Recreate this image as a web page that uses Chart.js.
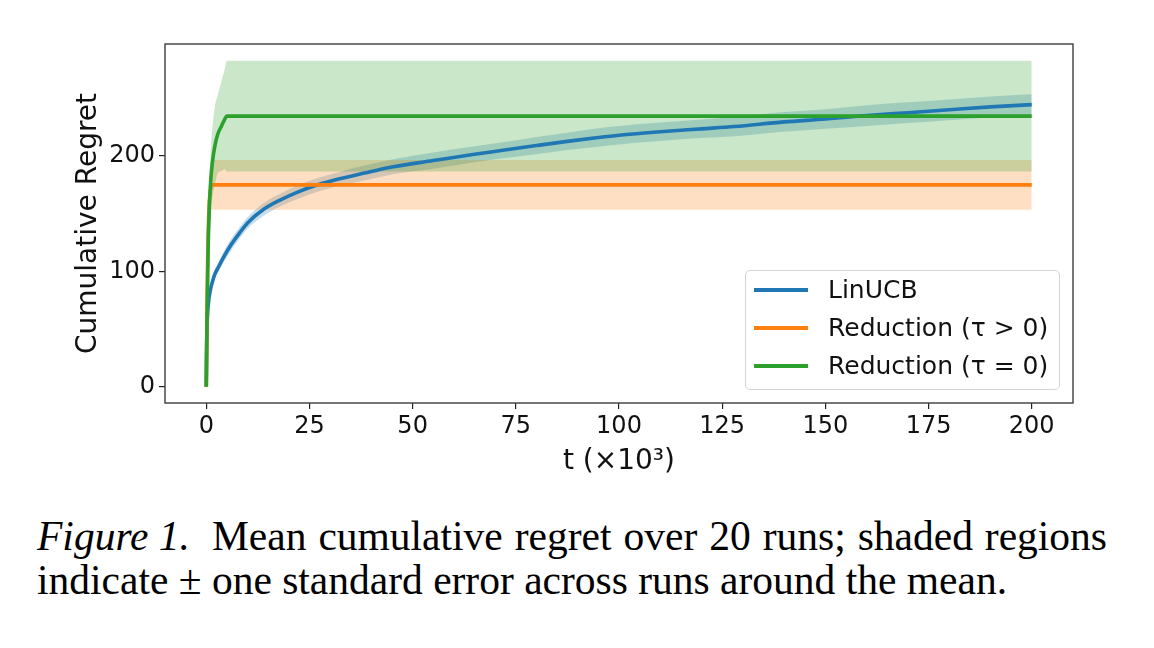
<!DOCTYPE html>
<html><head><meta charset="utf-8">
<script src="https://cdn.jsdelivr.net/npm/chart.js@4.4.1/dist/chart.umd.min.js"></script>
<style>
html,body{margin:0;padding:0;background:#fff;width:1154px;height:648px;overflow:hidden;}
#wrap{position:absolute;left:0;top:0;width:1154px;height:500px;}
#legend{position:absolute;left:745px;top:270px;width:313px;height:118px;border:1px solid #d4d4d4;border-radius:5px;background:rgba(255,255,255,0.8);font-family:"DejaVu Sans";font-size:25px;color:#111;}
.row{position:absolute;left:0;width:313px;height:38px;}
.sw{position:absolute;left:8px;top:17px;width:54px;height:4px;}
.lab{position:absolute;left:82px;top:0;line-height:38px;white-space:nowrap;}
#caption{position:absolute;left:37px;top:514px;font-family:"Liberation Serif";font-size:41.5px;line-height:44px;color:#000;white-space:nowrap;}
.gap{display:inline-block;width:22px;}
.l1{word-spacing:1.6px;}
</style></head>
<body>
<div id="wrap"><canvas id="c"></canvas></div>
<div id="legend"></div>
<div id="caption"><i>Figure 1.</i><span class="gap"></span><span class="l1">Mean cumulative regret over 20 runs; shaded regions</span><br>indicate ± one standard error across runs around the mean.</div>
<script>
// ---- data ----
const seriesNames = ["LinUCB", "Reduction (τ > 0)", "Reduction (τ = 0)"];
const seriesColors = ["#1f77b4", "#ff7f0e", "#2ca02c"];

const linucbT    = [0, 0.1, 0.25, 0.5, 1, 1.5, 2, 3, 4, 6, 8, 10, 14, 18, 22, 27, 32, 38, 45, 55, 65, 71, 80, 87, 95, 100, 110, 120, 128, 140, 150, 160, 170, 180, 190, 200];
const linucbMean = [0, 38, 58, 72, 84, 91, 97, 104, 111, 123, 133, 142, 154, 162, 168.5, 175, 180, 185, 190.5, 196, 201.5, 204.5, 209, 212.4, 216, 218, 221, 223.5, 225.5, 229.5, 232, 235, 237.5, 240, 242.5, 244.5];
const linucbSE   = [0, 1.5, 2.5, 3, 3.5, 3.5, 4, 4, 4.5, 5, 5, 5, 5.5, 5.5, 6, 6, 6, 6.5, 6.5, 7, 7, 7, 7.5, 7.5, 8, 8, 8, 8, 8.5, 8.5, 8.5, 9, 9, 9, 9, 9];

const redPosT    = [0, 0.3, 0.6, 1, 1.5, 200];
const redPosMean = [0, 100, 150, 170, 175, 175];
const redPosSE   = [0, 5, 12, 18, 21.5, 21.5];

const redZeroT    = [0, 0.25, 0.5, 0.8, 1.1, 1.5, 2.1, 2.8, 3.7, 4.5, 5, 200];
const redZeroMean = [0, 80, 128, 160, 180, 195, 209, 219, 226, 232, 234.5, 234.5];
const redZeroSE   = [0, 10, 15, 20, 25, 30, 34, 34, 39, 43.5, 48, 48];

const xTicks = [0, 25, 50, 75, 100, 125, 150, 175, 200];
const yTicks = [0, 100, 200];

// ---- build datasets ----
function rgba(hex, a){
  const n = parseInt(hex.slice(1), 16);
  return `rgba(${(n>>16)&255},${(n>>8)&255},${n&255},${a})`;
}
const series = [
  {t: linucbT, m: linucbMean, s: linucbSE},
  {t: redPosT, m: redPosMean, s: redPosSE},
  {t: redZeroT, m: redZeroMean, s: redZeroSE}
];
const datasets = [];
series.forEach((d, i) => {
  const col = seriesColors[i];
  const lineOrder = 2 - i;       // green on top
  const bandOrder = 5 - i;
  datasets.push({
    label: seriesNames[i] + ' lower',
    data: d.t.map((x, k) => ({x, y: d.m[k] - d.s[k]})),
    borderWidth: 0, pointRadius: 0, fill: false, order: bandOrder + 0.5,
    cubicInterpolationMode: 'monotone', borderColor: 'rgba(0,0,0,0)'
  });
  datasets.push({
    label: seriesNames[i] + ' upper',
    data: d.t.map((x, k) => ({x, y: d.m[k] + d.s[k]})),
    borderWidth: 0, pointRadius: 0, fill: '-1', order: bandOrder,
    backgroundColor: rgba(col, 0.25), borderColor: 'rgba(0,0,0,0)',
    cubicInterpolationMode: 'monotone'
  });
  datasets.push({
    label: seriesNames[i],
    data: d.t.map((x, k) => ({x, y: d.m[k]})),
    borderColor: col, borderWidth: 3.6, pointRadius: 0, fill: false,
    order: lineOrder, cubicInterpolationMode: 'monotone'
  });
});

const framePlugin = {
  id: 'frame',
  afterDatasetsDraw(chart){
    const {ctx, chartArea: a} = chart;
    ctx.save();
    ctx.strokeStyle = '#3c3c3c';
    ctx.lineWidth = 1.4;
    ctx.strokeRect(a.left, a.top, a.right - a.left, a.bottom - a.top);
    ctx.restore();
  }
};

const tickFont = {family: 'DejaVu Sans', size: 24};
const titleFont = {family: 'DejaVu Sans', size: 28};

new Chart(document.getElementById('c'), {
  type: 'line',
  data: {datasets},
  plugins: [framePlugin],
  options: {
    responsive: true, maintainAspectRatio: false, animation: false,
    layout: {padding: {top: 44, right: 81, left: 0, bottom: 0}},
    plugins: {
      legend: {display: false}, tooltip: {enabled: false},
      filler: {drawTime: 'beforeDatasetsDraw'}
    },
    scales: {
      x: {
        type: 'linear', min: -10, max: 210,
        afterBuildTicks: s => { s.ticks = xTicks.map(v => ({value: v})); },
        afterFit: s => { s.height = 97; },
        grid: {drawOnChartArea: false, drawTicks: true, tickLength: 6, color: '#222', lineWidth: 1.2},
        border: {display: false},
        ticks: {font: tickFont, color: '#111', padding: 3, maxRotation: 0, autoSkip: false},
        title: {display: true, text: 't (×10³)', font: titleFont, color: '#111', padding: {top: 0, bottom: 21}}
      },
      y: {
        type: 'linear', min: -14, max: 297,
        afterBuildTicks: s => { s.ticks = yTicks.map(v => ({value: v})); },
        afterFit: s => { s.width = 165; },
        grid: {drawOnChartArea: false, drawTicks: true, tickLength: 6, color: '#222', lineWidth: 1.2},
        border: {display: false},
        ticks: {font: tickFont, color: '#111', padding: 4, autoSkip: false},
        title: {display: true, text: 'Cumulative Regret', font: titleFont, color: '#111', padding: {top: 72, bottom: 0}}
      }
    }
  }
});

// ---- HTML legend from the series names/colours ----
const legend = document.getElementById('legend');
const rowCenters = [19, 57, 95];
seriesNames.forEach((name, i) => {
  const row = document.createElement('div');
  row.className = 'row';
  row.style.top = (rowCenters[i] - 19) + 'px';
  const sw = document.createElement('div');
  sw.className = 'sw';
  sw.style.background = seriesColors[i];
  const lab = document.createElement('div');
  lab.className = 'lab';
  lab.textContent = name;
  row.appendChild(sw); row.appendChild(lab);
  legend.appendChild(row);
});
</script>
</body></html>
